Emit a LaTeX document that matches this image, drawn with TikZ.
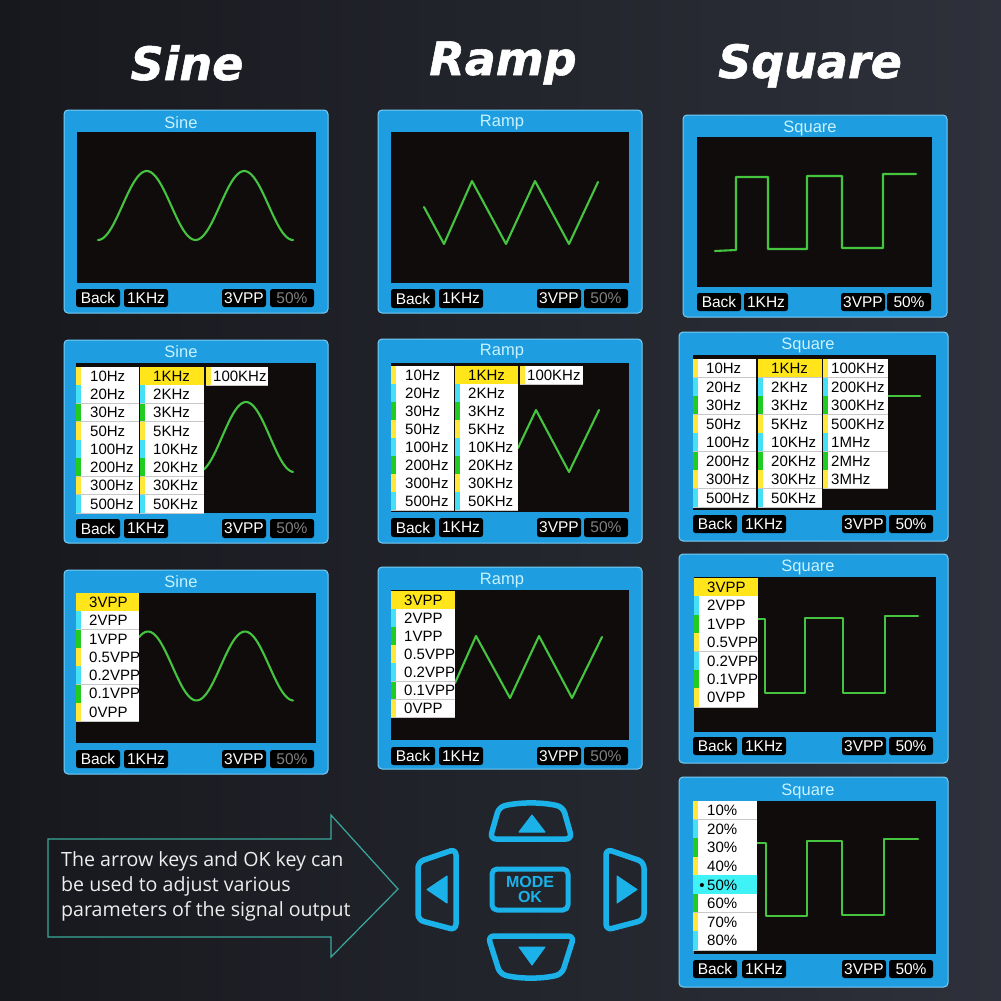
\documentclass[tikz,border=0pt]{standalone}
\usepackage{fontspec}
\setmainfont{Liberation Sans}
\newfontfamily\titlefont{DejaVu Sans}[BoldItalicFeatures={FakeBold=1.2}]
\newfontfamily\callfont{Open Sans}
\definecolor{bgA}{HTML}{17181D}
\definecolor{bgB}{HTML}{2E313B}
\definecolor{pblue}{HTML}{1E9DE0}
\definecolor{pedge}{HTML}{7ACDF4}
\definecolor{pscreen}{HTML}{110C0C}
\definecolor{ptitlec}{HTML}{C9F3FF}
\definecolor{wavec}{HTML}{45C43F}
\definecolor{hlY}{HTML}{FFE51A}
\definecolor{hlC}{HTML}{3FF2F6}
\definecolor{stY}{HTML}{FFE838}
\definecolor{stC}{HTML}{45E0F5}
\definecolor{stG}{HTML}{21CC21}
\definecolor{sepc}{HTML}{C8C8C8}
\definecolor{keyc}{HTML}{1BB2EA}
\definecolor{keyfill}{HTML}{23252C}
\definecolor{callc}{HTML}{3AA89C}
\definecolor{pgray}{HTML}{808080}
\definecolor{calltext}{HTML}{EDEDED}

% menu column: #1 prefix, #2 x1, #3 x2, #4 ytop, #5 row height, #6 indent, #7 list fill/strip/text
\newcommand\menucol[7]{%
  \foreach \mf/\ms/\mt [count=\mi from 0] in {#7}{%
    \pgfmathsetmacro\ya{(#4)+\mi*(#5)}%
    \pgfmathsetmacro\yb{(#4)+(\mi+1)*(#5)}%
    \fill[fill=\mf] (#2,\ya) rectangle (#3,\yb);
    \fill[fill=\ms] (#2,\ya) rectangle ({(#2)+4.5},\yb);
    \draw[sepline] (#2,\yb) -- (#3,\yb);
    \node[menutext] (#1-\mi) at ({(#2)+(#6)},{(\ya+\yb)/2+5.3}) {\mt};
  }%
}
% label box: #1 name, #2 x1, #3 y1, #4 x2, #5 y2, #6 text, #7 colour
\newcommand\lbl[7]{%
  \fill[lbox] (#2,#3) rectangle (#4,#5);
  \node[ltext,text=#7] (#1) at ({((#2)+(#4))/2},{((#3)+(#5))/2}) {#6};
}
% label row: #1 prefix, #2 y1, #3 y2, #4 back x, #5 khz x, #6 vpp x, #7 pct x, #8 pct colour
\newcommand\lblrow[8]{%
  \lbl{#1back}{#4}{#2}{#4+44}{#3}{Back}{white}
  \lbl{#1khz}{#5}{#2}{#5+44}{#3}{1KHz}{white}
  \lbl{#1vpp}{#6}{#2}{#6+44}{#3}{3VPP}{white}
  \lbl{#1pct}{#7}{#2}{#7+44}{#3}{50\%}{#8}
}
% panel: #1 ox1, #2 oy1, #3 ox2, #4 oy2, #5 sx1, #6 sy1, #7 sx2, #8 sy2
\newcommand\panelbox[8]{%
  \draw[pframe] (#1,#2) rectangle (#3,#4);
  \fill[pscr] (#5,#6) rectangle (#7,#8);
}

\begin{document}
\begin{tikzpicture}[x=1pt,y=-1pt,
  pframe/.style={fill=pblue,draw=pedge,line width=1pt,rounded corners=4pt},
  pscr/.style={fill=pscreen},
  ptitle/.style={font=\fontsize{16.5}{16.5}\selectfont,text=ptitlec,inner sep=0pt},
  lbox/.style={fill=black,rounded corners=2.5pt},
  ltext/.style={font=\fontsize{15.5}{15.5}\selectfont,inner sep=0pt},
  menutext/.style={font=\fontsize{15}{15}\selectfont,text=black,inner sep=0pt,anchor=base west},
  sepline/.style={draw=sepc,line width=0.6pt},
  wavepen/.style={draw=wavec,line width=2.1pt,line join=round,line cap=round},
  bigtitle/.style={font=\titlefont\bfseries\itshape\fontsize{46}{46}\selectfont,text=white,inner sep=0pt,anchor=base},
  keybtn/.style={draw=keyc,fill=keyfill,line width=5.5pt,rounded corners=6pt,line join=round},
  keytri/.style={fill=keyc,draw=keyc,line width=1pt,line join=round}
]
\shade[left color=bgA,right color=bgB] (0,0) rectangle (1001,1001);
\useasboundingbox (0,0) rectangle (1001,1001);

% column titles
\node[bigtitle] (tsine) at (187,80) {Sine};
\node[bigtitle] (tramp) at (503,75) {Ramp};
\node[bigtitle] (tsquare) at (810,78) {Square};

% ================= SINE column =================
\panelbox{64}{110}{328}{313}{77}{132}{316}{283}
\node[ptitle] (s1t) at (181,123) {Sine};
\draw[wavepen] plot[domain=98:293,samples=90,smooth] (\x,{205.5+34.5*cos((\x-98)/48.75*180)});
\lblrow{s1}{289}{307}{76}{124}{222}{270}{pgray}

\panelbox{64}{340}{328}{543}{76}{363}{316}{513}
\node[ptitle] (s2t) at (181,352) {Sine};
\draw[wavepen] plot[domain=204:293,samples=60,smooth] (\x,{437-35*cos((\x-246)/48*180)});
\menucol{s2a}{76}{139}{367}{18.25}{14}{white/stY/10Hz, white/stC/20Hz, white/stG/30Hz, white/stY/50Hz, white/stC/100Hz, white/stG/200Hz, white/stY/300Hz, white/stC/500Hz}
\menucol{s2b}{140}{204}{367}{18.25}{13}{hlY/hlY/1KHz, white/stC/2KHz, white/stG/3KHz, white/stY/5KHz, white/stC/10KHz, white/stG/20KHz, white/stY/30KHz, white/stC/50KHz}
\menucol{s2c}{206}{268}{367}{18.25}{7}{white/stY/100KHz}
\lblrow{s2}{519}{538}{76}{124}{222}{270}{pgray}

\panelbox{64}{570}{328}{774}{76}{593}{316}{743}
\node[ptitle] (s3t) at (181,582) {Sine};
\draw[wavepen] plot[domain=139:293,samples=80,smooth] (\x,{666-34.5*cos((\x-148)/48.5*180)});
\menucol{s3m}{76}{139}{593}{18.3}{13}{hlY/hlY/3VPP, white/stC/2VPP, white/stG/1VPP, white/stY/0.5VPP, white/stC/0.2VPP, white/stG/0.1VPP, white/stY/0VPP}
\lblrow{s3}{750}{768}{76}{124}{222}{270}{pgray}

% ================= RAMP column =================
\panelbox{378}{110}{642}{313}{391}{132}{629}{283}
\node[ptitle] (r1t) at (502,123) {Ramp};
\draw[wavepen] (424,207) -- (444,244) -- (472,181) -- (506,244) -- (535,181) -- (569,244) -- (598,182);
\lblrow{r1}{289}{308}{391}{439}{537}{584}{pgray}

\panelbox{378}{339}{642}{543}{391}{363}{629}{512}
\node[ptitle] (r2t) at (502,352) {Ramp};
\draw[wavepen] (518,448) -- (536,410) -- (569,472) -- (599,410);
\menucol{r2a}{391}{454}{366}{18}{14}{white/stY/10Hz, white/stC/20Hz, white/stG/30Hz, white/stY/50Hz, white/stC/100Hz, white/stG/200Hz, white/stY/300Hz, white/stC/500Hz}
\menucol{r2b}{455}{518}{366}{18}{13}{hlY/hlY/1KHz, white/stC/2KHz, white/stG/3KHz, white/stY/5KHz, white/stC/10KHz, white/stG/20KHz, white/stY/30KHz, white/stC/50KHz}
\menucol{r2c}{520}{583}{366}{18}{7}{white/stY/100KHz}
\lblrow{r2}{518}{537}{391}{439}{537}{584}{pgray}

\panelbox{378}{567}{642}{769}{391}{590}{629}{740}
\node[ptitle] (r3t) at (502,581) {Ramp};
\draw[wavepen] (455,683) -- (476,636) -- (510,698) -- (539,636) -- (572,698) -- (602,637);
\menucol{r3m}{391}{455}{591}{18.1}{13}{hlY/hlY/3VPP, white/stC/2VPP, white/stG/1VPP, white/stY/0.5VPP, white/stC/0.2VPP, white/stG/0.1VPP, white/stY/0VPP}
\lblrow{r3}{747}{765}{391}{439}{537}{584}{pgray}

% ================= SQUARE column =================
\panelbox{683}{115}{947}{317}{697}{137}{932}{287}
\node[ptitle] (q1t) at (810,128) {Square};
\draw[wavepen] (715,251) -- (736,250) -- (736,177) -- (768,177) -- (768,249) -- (807,249) -- (807,176) -- (842,176) -- (842,248) -- (883,248) -- (883,174) -- (916,174);
\lblrow{q1}{293}{311}{697}{744}{841}{887}{white}

\panelbox{679}{332}{948}{541}{693}{355}{936}{510}
\node[ptitle] (q2t) at (808,345) {Square};
\draw[wavepen] (888,396) -- (920,396);
\menucol{q2a}{693}{756}{359}{18.5}{13}{white/stY/10Hz, white/stC/20Hz, white/stG/30Hz, white/stY/50Hz, white/stC/100Hz, white/stG/200Hz, white/stY/300Hz, white/stC/500Hz}
\menucol{q2b}{758}{822}{359}{18.5}{13}{hlY/hlY/1KHz, white/stC/2KHz, white/stG/3KHz, white/stY/5KHz, white/stC/10KHz, white/stG/20KHz, white/stY/30KHz, white/stC/50KHz}
\menucol{q2c}{823}{888}{359}{18.5}{8}{white/stY/100KHz, white/stC/200KHz, white/stG/300KHz, white/stY/500KHz, white/stC/1MHz, white/stG/2MHz, white/stY/3MHz}
\lblrow{q2}{515}{533}{693}{742}{842}{889}{white}

\panelbox{679}{554}{948}{763}{694}{577}{936}{732}
\node[ptitle] (q3t) at (808,567) {Square};
\draw[wavepen] (758,619) -- (765,619) -- (765,693) -- (805,693) -- (805,618) -- (843,618) -- (843,693) -- (885,693) -- (885,616) -- (918,616);
\menucol{q3m}{694}{758}{578}{18.4}{13}{hlY/hlY/3VPP, white/stC/2VPP, white/stG/1VPP, white/stY/0.5VPP, white/stC/0.2VPP, white/stG/0.1VPP, white/stY/0VPP}
\lblrow{q3}{737}{755}{693}{742}{842}{889}{white}

\panelbox{679}{777}{948}{987}{694}{801}{936}{954}
\node[ptitle] (q4t) at (808,791) {Square};
\draw[wavepen] (757,843) -- (766,843) -- (766,916) -- (807,916) -- (807,841) -- (842,841) -- (842,915) -- (884,915) -- (884,839) -- (918,839);
\menucol{q4m}{693}{757}{801}{18.6}{14}{white/stY/10\%, white/stC/20\%, white/stG/30\%, white/stY/40\%, hlC/hlC/{\llap{•\,}50\%}, white/stG/60\%, white/stY/70\%, white/stC/80\%}
\lblrow{q4}{960}{978}{693}{742}{842}{889}{white}

% ================= callout =================
\draw[callc,line width=1.2pt,line join=miter] (48,839) -- (331,839) -- (331,815) -- (398,889) -- (331,957) -- (331,937) -- (48,937) -- cycle;
\node[font=\callfont\fontsize{19.6}{25}\selectfont,text=calltext,align=left,anchor=west,inner sep=0pt] (calltxt) at (61,886)
  {The arrow keys and OK key can\\be used to adjust various\\parameters of the signal output};

% ================= keys =================
\draw[keybtn] (499,807) .. controls (520,802) and (542,802) .. (563,807) -- (572,839) -- (490,839) -- cycle;
\draw[keytri] (519,832) -- (545,832) -- (532,815) -- cycle;
\draw[keybtn] (488,936) -- (574,936) -- (562,974) .. controls (542,979) and (520,979) .. (500,974) -- cycle;
\draw[keytri] (519,947) -- (545,947) -- (532,965) -- cycle;
\draw[keybtn] (418,862) -- (456,849) -- (456,930) -- (418,920) -- cycle;
\draw[keytri] (447,876) -- (447,903) -- (427,889.5) -- cycle;
\draw[keybtn] (644,862) -- (606,849) -- (606,930) -- (644,920) -- cycle;
\draw[keytri] (617,876) -- (617,903) -- (637,889.5) -- cycle;
\draw[keybtn,rounded corners=5pt,line width=5pt] (492,869) rectangle (568,910);
\node[font=\bfseries\fontsize{16}{15}\selectfont,text=keyc,inner sep=0pt] (modetxt) at (530,881.5) {MODE};
\node[font=\bfseries\fontsize{16}{15}\selectfont,text=keyc,inner sep=0pt] (oktxt) at (530,897) {OK};
\end{tikzpicture}
\end{document}
